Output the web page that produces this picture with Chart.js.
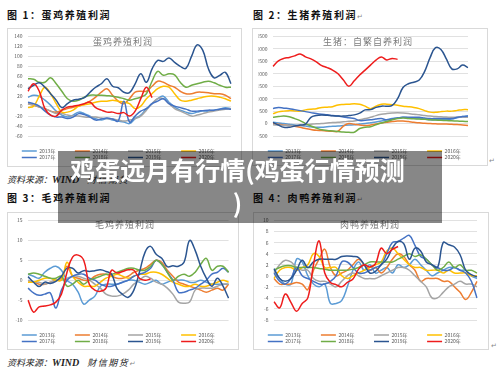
<!DOCTYPE html>
<html>
<head>
<meta charset="utf-8">
<script src="https://cdn.jsdelivr.net/npm/chart.js@4.4.0/dist/chart.umd.min.js"></script>
<style>
body{margin:0;width:500px;height:375px;background:#fff;position:relative;overflow:hidden;font-family:"Noto Sans CJK SC",sans-serif}
canvas{position:absolute}
.frame{position:absolute;border:1px solid #d9d9d9;box-sizing:border-box}
.head{position:absolute;font-size:10px;line-height:14px;font-weight:bold;letter-spacing:1.6px;color:#111;white-space:nowrap}
.ct{position:absolute;font-size:9px;line-height:12px;color:#7a7a7a;transform:translateX(-50%);white-space:nowrap;letter-spacing:1px}
.src{position:absolute;font-size:9px;line-height:14px;font-style:italic;color:#222;white-space:nowrap}
.src b{font-family:"Liberation Serif",serif;font-size:10px}
.pm{font-size:7px;color:#888;font-weight:normal;letter-spacing:0}
.pmx{position:absolute;font-size:7px;color:#888}
#ov{position:absolute;left:58px;top:151px;width:359px;height:70px;padding:2px 25px 0 0;background:rgba(0,0,0,.47);color:#fff;font-weight:bold;font-size:25px;line-height:33px;text-align:center;white-space:nowrap}
</style>
</head>
<body>

<div class="frame" style="left:7px;top:28px;width:235px;height:139px"></div>
<div class="frame" style="left:252px;top:28px;width:236px;height:138px"></div>
<div class="frame" style="left:7px;top:212px;width:232px;height:138px"></div>
<div class="frame" style="left:253px;top:212px;width:236px;height:138px"></div>

<canvas id="c1" width="235" height="142" style="left:7px;top:28px"></canvas>
<canvas id="c2" width="236" height="142" style="left:252px;top:28px"></canvas>
<canvas id="c3" width="232" height="142" style="left:7px;top:212px"></canvas>
<canvas id="c4" width="236" height="142" style="left:253px;top:212px"></canvas>

<div class="head" style="left:7px;top:8px">图 1：蛋鸡养殖利润</div>
<div class="head" style="left:253px;top:8px">图 2：生猪养殖利润<span class="pm">↵</span></div>
<div class="head" style="left:7px;top:191px">图 3：毛鸡养殖利润</div>
<div class="head" style="left:253px;top:191px">图 4：肉鸭养殖利润<span class="pm">↵</span></div>

<div class="ct" style="left:123px;top:36px">蛋鸡养殖利润</div>
<div class="ct" style="left:368px;top:36px">生猪：自繁自养利润</div>
<div class="ct" style="left:125px;top:219px">毛鸡养殖利润</div>
<div class="ct" style="left:370px;top:219px">肉鸭养殖利润</div>

<div class="src" style="left:7px;top:173px">资料来源：<b>WIND</b><span style="margin-left:8px;letter-spacing:1.5px">财信期货</span></div>
<div class="src" style="left:7px;top:356px">资料来源：<b>WIND</b><span style="margin-left:8px;letter-spacing:1.5px">财信期货</span><span class="pm">↵</span></div>
<div class="pmx" style="left:489px;top:155px">↵</div>
<div class="pmx" style="left:491px;top:340px">↵</div>

<div id="ov">鸡蛋远月有行情(鸡蛋行情预测<br>)</div>

<script>
var F = '"Noto Sans CJK SC", sans-serif';

// x categories, every 10 days; ticks shown every 30 days
var days = ['1-1','1-11','1-21','1-31','2-10','2-20','3-2','3-12','3-22','4-1','4-11','4-21','5-1','5-11','5-21','5-31','6-10','6-20','6-30','7-10','7-20','7-30','8-9','8-19','8-29','9-8','9-18','9-28','10-8','10-18','10-28','11-7','11-17','11-27','12-7','12-17','12-27'];
var years = ['2013年','2014年','2015年','2016年','2017年','2018年','2019年','2020年'];
var colors = ['#5B9BD5','#ED7D31','#A5A5A5','#FFC000','#4472C4','#70AD47','#2B5590','#EE1C1C'];

// 图1 蛋鸡养殖利润
var egg13 = [18,22,20,12,2,-10,-18,-22,-18,-12,-15,-20,-25,-28,-25,-28,-30,-32,-35,-25,-18,-5,5,15,20,8,-2,-8,-12,-15,-12,-10,-10,-8,-6,-3,-5];
var egg14 = [5,2,-2,-5,-10,-12,-8,-5,-2,0,5,10,18,28,35,22,10,5,15,28,30,30,40,50,48,42,38,30,25,25,28,28,27,25,25,22,15];
var egg15 = [5,2,-2,-5,-10,-15,-15,-18,-20,-20,-22,-22,-22,-24,-25,-26,-28,-30,-28,-25,-20,-8,5,15,15,5,-5,-10,-15,-20,-18,-15,-12,-10,-8,-6,-5];
var egg16 = [-3,0,20,38,25,5,-12,-12,-8,0,3,5,8,10,10,12,10,8,5,-5,0,15,25,35,40,38,25,12,10,12,15,18,20,20,18,15,10];
var egg17 = [8,5,0,-10,-18,-22,-22,-25,-22,-15,-17,-22,-28,-26,-24,-26,-30,10,-32,-20,-10,-5,5,10,15,5,0,-3,-6,-10,-10,-9,-8,-8,-6,-5,-6];
var egg18 = [55,54,48,48,57,45,30,15,10,12,18,22,22,22,21,20,18,15,12,15,18,25,50,70,62,65,63,48,38,42,45,48,50,47,42,38,38];
var egg19 = [35,42,47,38,25,12,-3,5,12,14,17,28,38,45,55,40,37,28,27,45,65,48,75,92,90,97,88,80,76,100,123,112,75,57,62,68,45];
var egg20 = [30,45,30,-5,-18,-20,-8,-2,0,2,5,8,-3,-8,-12,-12,-15,-13,-20,-10,15,38,17];

// 图2 生猪：自繁自养利润
var hog13 = [50,20,0,-30,-60,-80,-100,-130,-150,-150,-130,-110,-100,-80,-60,-50,-20,0,30,60,100,150,200,230,250,230,210,200,180,150,150,160,170,180,230,280,300];
var hog14 = [0,-30,-60,-80,-110,-150,-200,-240,-270,-280,-300,-310,-310,-100,0,-30,-60,-80,-60,-20,20,50,80,100,100,80,50,30,10,0,-10,-20,-20,-30,-40,-60,-80];
var hog15 = [-50,-60,-70,-80,-80,-70,-50,-30,-10,0,20,40,50,70,90,100,150,200,250,320,370,400,420,430,420,400,370,350,320,300,280,270,260,250,250,260,250];
var hog16 = [400,470,500,520,510,500,550,580,600,650,660,680,750,770,780,800,780,700,600,700,780,780,760,740,700,680,650,600,520,460,450,480,500,500,530,560,560];
var hog17 = [600,650,620,600,560,520,480,440,400,370,350,320,300,260,230,200,120,130,150,180,200,150,180,220,250,250,250,250,220,200,200,200,200,200,250,280,300];
var hog18 = [250,280,300,270,200,120,0,-100,-180,-250,-280,-300,-320,-340,-350,-350,-200,-150,-130,-50,20,80,150,200,220,200,190,180,170,150,140,130,120,110,100,90,80];
var hog19 = [50,-60,-150,-150,-100,-60,-20,250,320,340,330,310,300,300,320,350,420,550,560,650,700,700,730,1000,1450,1600,1660,1750,2100,2650,3050,2980,2600,2200,2200,2350,2250];
var hog20 = [2300,2520,2620,2660,2720,2800,2680,2600,2480,2330,2250,2150,2000,1750,1500,1720,1950,2150,2350,2550,2680,2560,2620,2580];

// 图3 毛鸡养殖利润
var br13 = [1.5,1,0.5,2,3,3.5,2.5,0,-1,-3,-6,-5,-4,-1.5,-1,-1,-1,-0.5,0,0,-0.5,-1,-0.5,0,-1,-0.5,0,0,0,-0.5,-0.5,0,-0.5,-1,-1,-1,-1];
var br14 = [-0.5,-0.5,-1,-1,-0.5,0,0.5,3.5,1,0.5,0,0,1,1.5,1.5,1,0.5,0.5,1,2,2.5,3,4,5,4.5,2.5,1,-0.5,-1,-1.5,-2,-2.5,-3,-2.5,-2,-2.5,-1];
var br15 = [0,-0.5,-0.5,-1,-0.5,0,0,0.5,1,1,0.5,0,-1,-2,-3.5,-4,-4,-3.5,-2.5,-1,0,1,0.5,-0.5,-1,-2,-3.5,-5.5,-5.8,-5.5,-2.5,-2,-2,-2,-1.5,-1,-1];
var br16 = [-0.5,-0.5,0,0.5,0.5,0,0,4.5,1,-0.5,-1.5,-1.5,-1.5,-0.5,0.5,1,1.5,1,0.5,1,1.5,1.5,2,2,1.5,0.5,-0.5,-1,-1.5,-1.5,-1,-1.5,-1.5,-1,-0.5,0,-0.5];
var br17 = [-2,-3.2,-3.8,-3.5,-3.2,-7,-2.5,0,1,1.5,1.5,0.5,0,-1,-1.5,-1.5,-1,-0.5,0,1,1.5,2,3,5,4,2,0,-3,-3,-2.5,-2,-1,0,1.5,2,3,2];
var br18 = [1.5,1.8,1.5,1,0.5,0.5,1,-1.5,-1,0,-1,0,0.5,1,1.5,1.5,2,2.5,3,3,2.5,2.5,3.5,5,4,2,0,1,1.5,1,2,4,5.5,2.5,3.5,3.5,2];
var br19 = [0.9,-0.5,-1.6,-0.5,-0.8,-0.3,1,3,3,1.8,2.4,2.2,2.4,2.6,2.2,1.5,-2.2,-3.6,-4.3,-2.5,2,7,8.5,6.5,5.5,3.4,3.6,3.5,4.5,10,7.5,3.5,0.5,-1.5,0.5,-1.5,-4.5];
var br20 = [-5,-8,-6.7,-6.5,-6.2,-5.5,-3.5,2,5.8,6.3,5,-1,-2.5,-2.8,-2,2.5,1.8,2.2,2.6,2.5,0.5,0,0.3];

// 图4 肉鸭养殖利润
var dk13 = [1,-0.5,-1.5,-1.5,3,2.5,0,-1.5,-2,-1.5,-5,-5,-4.5,-2,1,2.5,1,2,0.5,1,1.5,0.5,2,1.5,2,3,2,1,0,0.5,1,1.5,1.5,1,1,0,-0.5];
var dk14 = [-0.5,-1.5,-1.5,-1.5,-1.2,-1.5,-2.5,1,3,4.8,1.5,0,0.5,1,2,3,2,1,1.5,0.5,1.5,3,4,3.5,2,1,-1,-0.5,-0.5,-0.5,-1,-1,-2,-3,-4.3,-3,-1];
var dk15 = [0.5,2,2.8,2.5,1.5,1,1,-0.5,-1,-1,-1.5,-2,-1,0,0.5,0,-0.5,-0.5,-0.5,0,0.5,1,1.5,1.5,1,0,-1,-2,-4,-4,-3,-2,-1.5,-1,-1.5,-1.5,-2];
var dk16 = [-0.5,1,1.5,1.5,1,1.5,2,4,3.5,1.5,1.5,1.5,0,-0.5,0,0.5,1,1.5,2,2.5,4.5,5,4,3,2,1.5,1.5,1,1,1,0.5,1,0.5,0.5,0.5,0,0];
var dk17 = [0.5,-1,-1.5,-0.5,1.5,0,-0.5,-1,-1.5,-1.5,-1,0,2.5,2.5,1.5,0.5,0.5,1,1.5,2,4,6,6.2,6.8,7.3,5.5,3.5,3,2,1.5,1,1,1.5,1,0.5,-1,-4];
var dk18 = [1,1.5,1.8,1.8,1.5,1.5,1.5,1.5,1.3,1.2,1,1,1,1,1.2,1.5,2,2.5,2.5,2.5,2.5,2.5,3,3.5,4,3.5,3.8,3,2,1,1.5,2.5,1.5,2,1,1,0.5];
var dk19 = [1.3,-0.5,-1,-0.5,1,2.8,1.5,2.5,3,3,3,3,3.5,3.6,3.5,3.3,2,0.5,0.8,2,3,5,6.2,5.8,3,5,4.5,2.5,2,1.5,6,5.6,5.2,3.8,1,0.2,-0.2];
var dk20 = [-4.7,-5.8,-3.3,-4.8,-6.4,-5,-4,2,6.3,0.5,-1.2,-1.6,-2,-1.2,-0.6,1.2,2,1.6,2.2,5,4,4.8,5.3];

// legend text gets padded with thin spaces so 4 items fill a row
function padLabels(chart) {
    var items = Chart.defaults.plugins.legend.labels.generateLabels(chart);
    var ctx = chart.ctx;
    ctx.save();
    ctx.font = '5px ' + F;
    items.forEach(function (it) {
        var t = it.text, n = 0;
        while (ctx.measureText(t).width < 34 && n < 60) { t += '\u2009'; n++; }
        it.text = t;
    });
    ctx.restore();
    return items;
}

function makeChart(id, series, yMin, yMax, yStep, g) {
    var ds = series.map(function (d, i) {
        return {
            label: years[i], data: d,
            borderColor: colors[i], backgroundColor: colors[i],
            borderWidth: 1.5, pointRadius: 0, tension: 0.4, fill: false,
            order: 7 - i
        };
    });
    var tickFont = {size: 5, family: F};
    new Chart(document.getElementById(id), {
        type: 'line',
        data: {labels: days, datasets: ds},
        options: {
            responsive: false,
            animation: false,
            devicePixelRatio: 1,
            layout: {padding: {left: g.padL, top: g.padT, right: 0, bottom: 0}},
            plugins: {
                tooltip: {enabled: false},
                legend: {
                    position: 'bottom',
                    labels: {
                        usePointStyle: true, pointStyle: 'line', pointStyleWidth: 15,
                        padding: 1.5, color: '#595959', font: {size: 5, family: F},
                        generateLabels: padLabels,
                        sort: function (a, b) { return a.datasetIndex - b.datasetIndex; }
                    }
                }
            },
            scales: {
                x: {
                    grid: {display: false}, border: {display: false},
                    ticks: {
                        autoSkip: false, maxRotation: 0, minRotation: 0, padding: 4,
                        color: '#595959', font: tickFont,
                        callback: function (v, i) { return i % 3 === 0 ? days[i] : ''; }
                    },
                    afterFit: function (s) { s.height = 11; }
                },
                y: {
                    min: yMin, max: yMax,
                    ticks: {
                        stepSize: yStep, padding: 5.5, color: '#595959', font: tickFont,
                        callback: function (v) { return String(v); }
                    },
                    grid: {color: '#d9d9d9', lineWidth: 0.8, drawTicks: false},
                    border: {display: false},
                    afterFit: function (s) { s.width = g.yw; }
                },
                y2: {
                    type: 'linear', position: 'right', display: true,
                    grid: {display: false}, border: {display: false}, ticks: {display: false},
                    afterFit: function (s) { s.width = g.rw; }
                }
            }
        }
    });
}

makeChart('c1', [egg13, egg14, egg15, egg16, egg17, egg18, egg19, egg20], -60, 140, 20,
    {padL: 5.5, padT: 6, yw: 15.5, rw: 11});
makeChart('c2', [hog13, hog14, hog15, hog16, hog17, hog18, hog19, hog20], -500, 3500, 500,
    {padL: 6.5, padT: 6, yw: 14.5, rw: 20});
makeChart('c3', [br13, br14, br15, br16, br17, br18, br19, br20], -10, 15, 5,
    {padL: 8.5, padT: 5, yw: 12.5, rw: 9});
makeChart('c4', [dk13, dk14, dk15, dk16, dk17, dk18, dk19, dk20], -8, 10, 2,
    {padL: 4.5, padT: 5, yw: 16.5, rw: 12});
</script>
</body>
</html>
